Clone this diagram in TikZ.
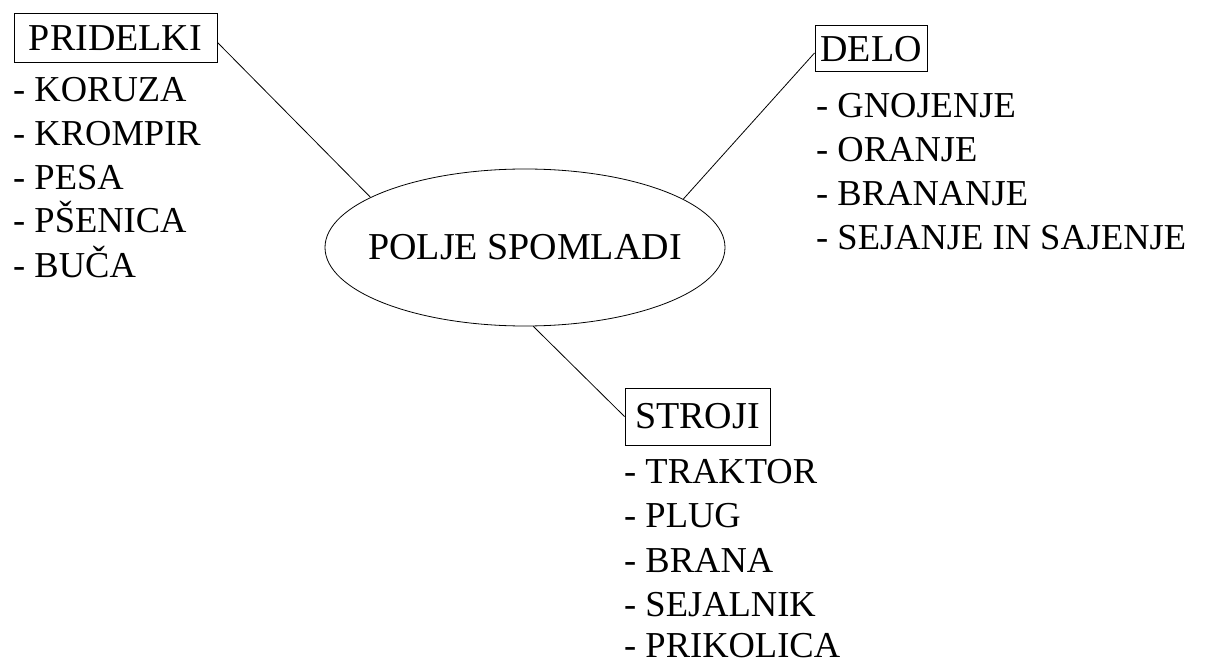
\documentclass[tikz,border=0pt]{standalone}
\usepackage{fontspec}
\setmainfont{Liberation Serif}
\usetikzlibrary{shapes.geometric}
\begin{document}
\begin{tikzpicture}[x=1pt,y=-1pt,
  hdr/.style={draw,line width=1pt,inner sep=0pt,font=\fontsize{38}{44}\selectfont},
  item/.style={anchor=base west,inner sep=0pt,font=\fontsize{36.5}{44}\selectfont},
  link/.style={line width=0.8pt}]
\useasboundingbox (0,0) rectangle (1216,663);
\node[ellipse,draw,line width=0.8pt,minimum width=400pt,minimum height=157pt,
      inner xsep=-20pt,inner ysep=0pt,
      font=\fontsize{38}{44}\selectfont] (pol) at (525,247.5) {POLJE SPOMLADI};
\node[hdr,minimum width=203pt,minimum height=49pt] (pri) at (115.5,38.5) {PRIDELKI};
\node[hdr,minimum width=112pt,minimum height=46pt] (delo) at (871,49) {DELO};
\node[hdr,minimum width=145pt,minimum height=57pt] (str) at (697.5,416.5) {STROJI};
\draw[link] ([yshift=-4pt]pri.east) -- (pol.162);
\draw[link] ([yshift=-4pt]delo.west) -- (pol.17.6);
\draw[link] (pol.-84) -- (str.west);
\node[item] (p1) at (13,102) {- KORUZA};
\node[item] (p2) at (13,146) {- KROMPIR};
\node[item] (p3) at (13,190) {- PESA};
\node[item] (p4) at (13,233) {- PŠENICA};
\node[item] (p5) at (13,278) {- BUČA};
\node[item] (d1) at (816,118) {- GNOJENJE};
\node[item] (d2) at (816,162) {- ORANJE};
\node[item] (d3) at (816,206) {- BRANANJE};
\node[item] (d4) at (816,250) {- SEJANJE IN SAJENJE};
\node[item] (s1) at (624,483) {- TRAKTOR};
\node[item] (s2) at (624,527) {- PLUG};
\node[item] (s3) at (624,572) {- BRANA};
\node[item] (s4) at (624,616) {- SEJALNIK};
\node[item] (s5) at (624,657) {- PRIKOLICA};
\end{tikzpicture}
\end{document}
